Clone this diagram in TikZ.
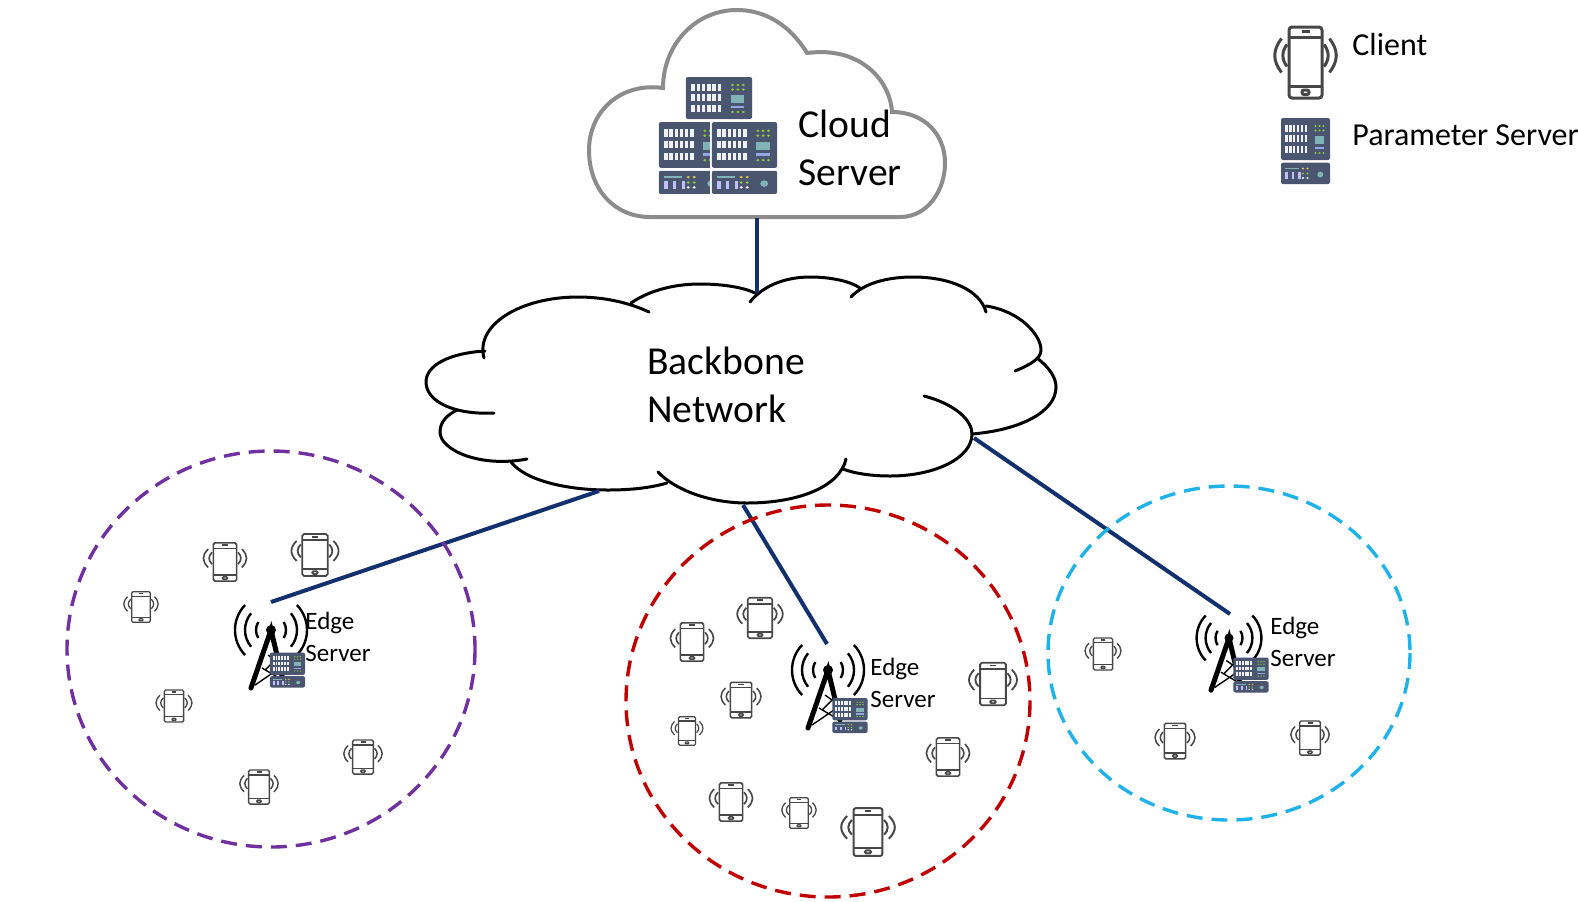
\documentclass[tikz,border=0pt]{standalone}
\usepackage{fontspec}
\setmainfont{Carlito}
\usepackage{tikz}
\usetikzlibrary{calc}
\definecolor{netblue}{HTML}{12306E}
\definecolor{rackblue}{HTML}{4A5570}
\definecolor{rackteal}{HTML}{7FB3B5}
\definecolor{rackgreen}{HTML}{8FC640}
\definecolor{rackyellow}{HTML}{E3C84A}
\definecolor{ringpurple}{HTML}{7030A0}
\definecolor{ringred}{HTML}{C00000}
\definecolor{ringcyan}{HTML}{1FB2E8}
\newcommand{\rackupper}{%
  \fill[rackblue, rounded corners=1pt] (-24.5,-33) rectangle (24.5,9);
  \foreach \ry in {-26.5,-15.8,-5} \foreach \rx in {0,...,5}
    \fill[white!92!rackblue] ({-20.5+\rx*3.9},\ry) rectangle ++(2.6,7);
  \foreach \ry in {-25,-20.5,2} \foreach \rx in {10,14,18}
    \fill[rackgreen] (\rx,\ry) circle[radius=1.2];
  \fill[rackteal] (9,-15) rectangle (18.8,-7.5);
  \fill[rackteal!60!blue!60!white] (9,-4.3) rectangle (18.8,-1.7);
}
\tikzset{
  rackup/.pic={\rackupper},
  rack/.pic={
    \rackupper
    \fill[rackblue, rounded corners=1pt] (-24.5,11.7) rectangle (24.5,33);
    \fill[rackteal] (-20.5,16.7) rectangle (-7,18.3);
    \foreach \rx in {-20.5,-14,-7.5}
      \fill[blue!25!white] (\rx,21) rectangle ++(2.5,7);
    \foreach \rx in {-2.5,2} {
      \fill[rackyellow] (\rx,17.5) circle[radius=1.2];
      \fill[rackgreen] (\rx,22.5) circle[radius=1.2];
      \fill[white] (\rx,27) circle[radius=1.2];
    }
    \fill[rackteal] (14.8,23.5) circle[radius=3];
  },
  phone/.pic={
    \begin{scope}[scale=#1, draw=black!72, line width=#1*1.5pt]
      \draw[rounded corners=#1*1.5pt] (-16.5,-35.5) rectangle (16.5,35.5);
      \draw (-16.5,-25) -- (16.5,-25) (-16.5,24) -- (16.5,24);
      \draw (-4,-31) -- (4,-31);
      \draw[rounded corners=#1*1pt] (-3.5,27.5) rectangle (3.5,32);
      \foreach \sd in {1,-1} {
        \draw[xscale=\sd] (-24,-24) .. controls (-33,-12) and (-33,-2) .. (-24,10);
        \draw[xscale=\sd] (-18.5,-18) .. controls (-24,-11) and (-24,-3) .. (-18.5,4);
      }
    \end{scope}
  },
  tower/.pic={
    \begin{scope}[scale=#1]
      \foreach \r/\a in {36/44,26/40,15/32} {
        \draw[line width=1.2pt] (\a:\r) arc[start angle=\a, end angle=-\a, radius=\r];
        \draw[line width=1.2pt] (180-\a:\r) arc[start angle=180-\a, end angle=180+\a, radius=\r];
      }
      \draw[line width=2.5pt, line cap=round] (-20,58) -- (0,0) -- (12,50);
      \draw[line width=0.7pt] (-16,55) -- (6,40) (-6,40) -- (6,28) (-3,25) -- (4,30) (-9,38) -- (8,48);
      \fill (0,0) circle[radius=5];
    \end{scope}
  }
}

\begin{document}
\begin{tikzpicture}[
  x=0.5pt, y=-0.5pt,
  link/.style={line width=2pt, netblue},
  ring/.style={line width=1.7pt, dash pattern=on 8pt off 4.5pt},
  bbline/.style={line width=1.5pt, line cap=round},
  biglabel/.style={font=\fontsize{19.8}{23.7}\selectfont, align=left, anchor=west, inner sep=0pt},
  keylabel/.style={font=\fontsize{16}{19}\selectfont, anchor=base west, inner sep=0pt},
  edgelabel/.style={font=\fontsize{12.5}{16}\selectfont, align=left, anchor=west, inner sep=0pt}
]
  \useasboundingbox (0,0) rectangle (1578,901);

  % Cloud server (top)
  \draw[line width=2pt, black!45] (650,217) -- (900,217)
    .. controls (928,217) and (945,190) .. (945,163)
    .. controls (945,135) and (925,112) .. (892,112)
    .. controls (890,80) and (860,46) .. (807,53)
    .. controls (790,25) and (765,10) .. (737,10)
    .. controls (695,10) and (663,45) .. (663,88)
    .. controls (620,82) and (589,112) .. (589,150)
    .. controls (589,190) and (615,217) .. (650,217) -- cycle;
  \pic[xscale=1.35] at (719,110) {rackup};
  \pic[xscale=1.33, yscale=1.09] at (691.5,158) {rack};
  \fill[white] (710,120) rectangle (779,196);
  \pic[xscale=1.33, yscale=1.09] at (744.5,158) {rack};
  \node[biglabel] (cloudlabel) at (798,148) {Cloud\\Server};

  % Backbone network
  \draw[bbline] (484,358) .. controls (475,325) and (520,297) .. (578,297) .. controls (605,297) and (630,303) .. (649,312);
  \draw[bbline] (631,303) .. controls (650,290) and (675,284) .. (700,284) .. controls (725,284) and (745,288) .. (755,293);
  \draw[bbline] (750,302) .. controls (765,283) and (790,277) .. (810,277) .. controls (830,277) and (850,281) .. (860,288);
  \draw[bbline] (851,297) .. controls (865,282) and (890,277) .. (913,277) .. controls (950,277) and (980,290) .. (986,312);
  \draw[bbline] (986,306) .. controls (1020,311) and (1041,335) .. (1041,350) .. controls (1041,358) and (1032,364) .. (1015,371);
  \draw[bbline] (1037,358) .. controls (1050,368) and (1056,378) .. (1056,387) .. controls (1056,412) and (1020,430) .. (972,434);
  \draw[bbline] (924,396) .. controls (955,404) and (972,420) .. (972,434) .. controls (972,458) and (935,476) .. (890,476) .. controls (870,476) and (853,473) .. (843,469);
  \draw[bbline] (846,459) .. controls (840,486) and (800,503) .. (747,503) .. controls (710,503) and (675,490) .. (658,472);
  \draw[bbline] (667,483) .. controls (650,488) and (630,490) .. (608,490) .. controls (565,490) and (525,480) .. (511,462);
  \draw[bbline] (527,459) .. controls (480,468) and (440,450) .. (440,432) .. controls (440,422) and (447,415) .. (457,410);
  \draw[bbline] (494,413) .. controls (455,415) and (426,402) .. (426,382) .. controls (426,365) and (450,353) .. (485,351);
  \node[biglabel] (backbonelabel) at (647,385) {Backbone\\Network};

  % Connector ends
  \coordinate (cloudout) at (757,218);
  \coordinate (bbtop) at (757,293);
  \coordinate (bbleft) at (599,491);
  \coordinate (bbmid) at (743,505);
  \coordinate (bbright) at (974,438);
  \coordinate (edgeleft) at (271,602);
  \coordinate (edgemid) at (827,644);
  \coordinate (edgeright) at (1230,614);

  \draw[link] (cloudout) -- (bbtop);
  \draw[link] (bbleft) -- (edgeleft);
  \draw[link] (bbmid) -- (edgemid);
  \draw[link] (bbright) -- (edgeright);

  % Edge regions
  \draw[ring, ringpurple] (271,649) ellipse[x radius=204, y radius=198];
  \draw[ring, ringred] (828,701) ellipse[x radius=202, y radius=196];
  \draw[ring, ringcyan] (1229,653) ellipse[x radius=181, y radius=167];

  % Edge servers
  \pic at (271,630) {tower=1};
  \pic[xscale=0.72, yscale=0.53] at (287.5,670) {rack};
  \node[edgelabel] (edgetextleft) at (305,637) {Edge\\Server};

  \pic at (828,670) {tower=1};
  \pic[xscale=0.72, yscale=0.53] at (850,715.5) {rack};
  \node[edgelabel] (edgetextmid) at (870,683) {Edge\\Server};

  \pic at (1229,638) {tower=0.9};
  \pic[xscale=0.72, yscale=0.53] at (1251,675) {rack};
  \node[edgelabel] (edgetextright) at (1270,642) {Edge\\Server};

  % Clients
  \foreach \px/\py/\ps in {225/562/.54, 315/555/.59, 141/607/.43, 174/706/.45, 259/787/.48, 363/757/.48,
      760/618/.57, 692/642/.54, 741/700/.5, 687/731/.4, 993/684/.6, 948/757/.54, 731/802/.54, 799/813/.43, 868/832/.67,
      1103/654/.45, 1175/741/.5, 1310/738/.48}
    \pic[xscale=1.3] at (\px,\py) {phone=\ps};

  % Legend
  \pic at (1305.5,62.5) {phone=1};
  \node[keylabel] (clientkey) at (1352,55) {Client};
  \pic at (1305.5,151) {rack};
  \node[keylabel] (paramkey) at (1352,145) {Parameter Server};
\end{tikzpicture}
\end{document}
